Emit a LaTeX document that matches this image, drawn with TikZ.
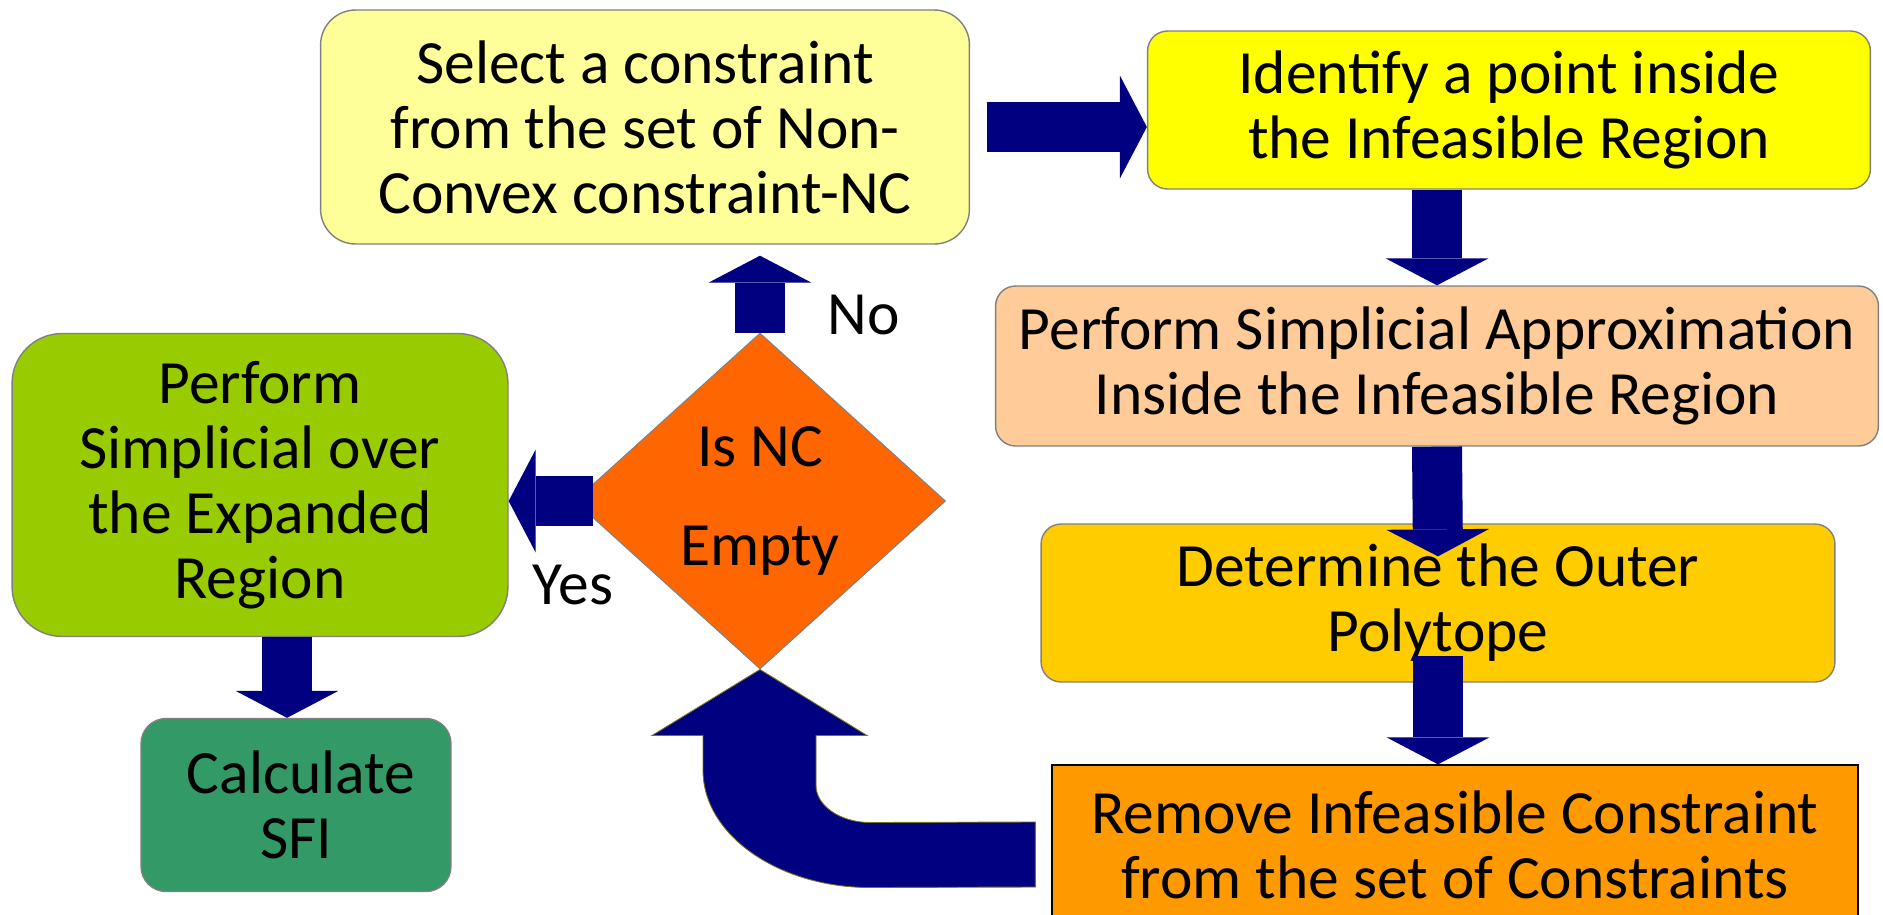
\documentclass[tikz,border=0pt]{standalone}
\usepackage{fontspec}
\setmainfont{Carlito}
\usetikzlibrary{positioning, shapes.geometric, arrows.meta, calc}

\definecolor{navyarrow}{HTML}{000080}
\definecolor{selyellow}{HTML}{FFFF99}
\definecolor{identyellow}{HTML}{FFFF00}
\definecolor{approxpeach}{HTML}{FFCC99}
\definecolor{outergold}{HTML}{FFCC00}
\definecolor{removeorange}{HTML}{FF9900}
\definecolor{decorange}{HTML}{FF6600}
\definecolor{simpgreen}{HTML}{99CC00}
\definecolor{sfigreen}{HTML}{339966}

\begin{document}
\begin{tikzpicture}[
        x=0.02cm, y=-0.02cm,
        font=\fontsize{35}{37}\selectfont,
        box/.style={rectangle, draw=gray, line width=0.8pt, rounded corners=0.7cm, align=center, inner sep=0pt},
        decision/.style={diamond, draw=gray, line width=0.6pt, fill=decorange, align=center, inner sep=0pt, minimum width=7.42cm, minimum height=6.72cm},
        arrow/.style={draw=navyarrow, line width=1cm, -{Triangle[length=0.54cm 0, width=2.06cm 0, line width=0pt 0]}}
        ]
        \useasboundingbox (0,0) rectangle (1883,914);

        \node[box, fill=selyellow, minimum width=12.98cm, minimum height=4.68cm] (select) at (645,127) {Select a constraint\\from the set of Non-\\Convex constraint-NC};
        \node[box, fill=identyellow, minimum width=14.46cm, minimum height=3.16cm, rounded corners=0.4cm] (ident) at (1509,110) {Identify a point inside\\the Infeasible Region};
        \node[box, fill=approxpeach, minimum width=17.66cm, minimum height=3.2cm, rounded corners=0.4cm] (approx) at (1437,366) {Perform Simplicial Approximation\\Inside the Infeasible Region};
        \node[box, fill=outergold, minimum width=15.88cm, minimum height=3.16cm, rounded corners=0.4cm] (outer) at (1438,603) {Determine the Outer\\Polytope};
        \node[box, fill=removeorange, draw=black, rounded corners=0pt, minimum width=16.12cm, minimum height=3.2cm] (remove) at (1455,845) {Remove Infeasible Constraint\\from the set of Constraints};
        \node[decision] (dec) at (760,501) {Is NC\\[19pt]Empty};
        \node[box, fill=simpgreen, minimum width=9.92cm, minimum height=6.06cm, rounded corners=1cm] (simp) at (260,485) {Perform\\Simplicial over\\the Expanded\\Region};
        \node[box, fill=sfigreen, minimum width=6.2cm, minimum height=3.46cm, rounded corners=0.5cm] (sfi) at (296,805) {\hspace{0.2cm}Calculate\\SFI};
        \node (no) at (864,315) {No};
        \node (yes) at (573,585) {Yes};

        \draw[arrow] ([xshift=0.34cm]select.east) -- (ident.west |- select.east);
        \draw[arrow] (approx.north |- ident.south) -- (approx.north);
        \draw[arrow] (approx.south) -- ([yshift=-0.66cm]outer.north);
        \draw[arrow] ([yshift=0.54cm]outer.south) -- (outer.south |- remove.north);
        \draw[arrow] (dec.north) -- ([yshift=-0.22cm]dec.north |- select.south);
        \draw[arrow] ([xshift=0.38cm]dec.west) -- (simp.east |- dec.west);
        \draw[arrow] ([xshift=-0.18cm]sfi.north |- simp.south) -- ([xshift=-0.18cm]sfi.north);

        % U-turn arrow back to the decision
        \fill[navyarrow, draw=olive!80!black, line width=0.5pt]
            ($(remove.west)+(-16,-23)$) -- ($(dec.south)+(110,153)$)
            .. controls ($(dec.south)+(80,153)$) and ($(dec.south)+(56,136)$) .. ($(dec.south)+(56,116)$)
            -- ($(dec.south)+(56,66)$) -- ($(dec.south)+(107,66)$) -- (dec.south)
            -- ($(dec.south)+(-108,66)$) -- ($(dec.south)+(-57,66)$) -- ($(dec.south)+(-57,101)$)
            .. controls ($(dec.south)+(-57,165)$) and ($(dec.south)+(18,218)$) .. ($(dec.south)+(110,218)$)
            -- ($(remove.west)+(-16,42)$) -- cycle;
    \end{tikzpicture}
\end{document}
